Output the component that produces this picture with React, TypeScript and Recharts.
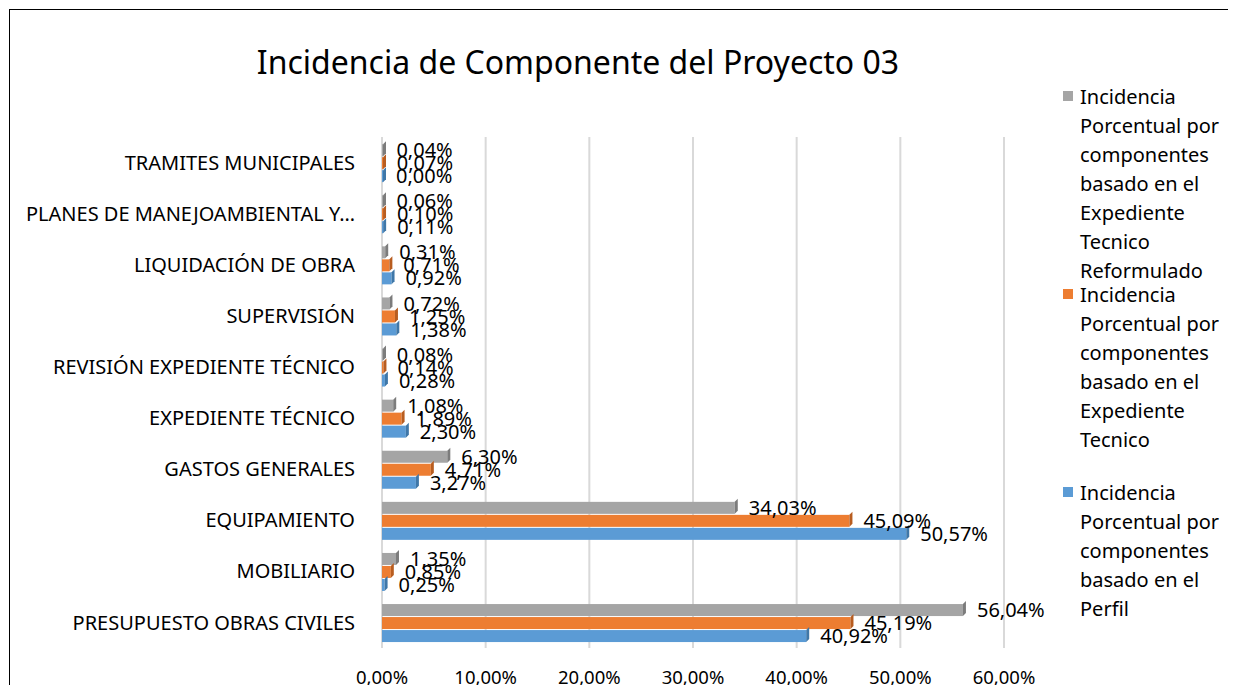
import { BarChart, Bar, XAxis, YAxis, CartesianGrid, Legend, LabelList } from 'recharts'

const categories = [
    'TRAMITES MUNICIPALES',
    'PLANES DE MANEJOAMBIENTAL Y…',
    'LIQUIDACIÓN DE OBRA',
    'SUPERVISIÓN',
    'REVISIÓN EXPEDIENTE TÉCNICO',
    'EXPEDIENTE TÉCNICO',
    'GASTOS GENERALES',
    'EQUIPAMIENTO',
    'MOBILIARIO',
    'PRESUPUESTO OBRAS CIVILES',
]

// % values
const reformulado = [0.04, 0.06, 0.31, 0.72, 0.08, 1.08, 6.3, 34.03, 1.35, 56.04]
const tecnico = [0.07, 0.1, 0.71, 1.25, 0.14, 1.89, 4.71, 45.09, 0.85, 45.19]
const perfil = [0.0, 0.11, 0.92, 1.38, 0.28, 2.3, 3.27, 50.57, 0.25, 40.92]

const xTicks = [0, 10, 20, 30, 40, 50, 60]

const series = [
    {
        key: 'reformulado',
        fill: '#A5A5A5',
        side: '#7c7c7c',
        lines: ['Incidencia', 'Porcentual por', 'componentes', 'basado en el', 'Expediente', 'Tecnico', 'Reformulado'],
        top: 82,
    },
    {
        key: 'tecnico',
        fill: '#ED7D31',
        side: '#b85d20',
        lines: ['Incidencia', 'Porcentual por', 'componentes', 'basado en el', 'Expediente', 'Tecnico'],
        top: 280,
    },
    {
        key: 'perfil',
        fill: '#5B9BD5',
        side: '#3f77a8',
        lines: ['Incidencia', 'Porcentual por', 'componentes', 'basado en el', 'Perfil'],
        top: 478,
    },
]

const data = categories.map((name, i) => ({
    name,
    reformulado: reformulado[i],
    tecnico: tecnico[i],
    perfil: perfil[i],
}))

const FONT = '"Noto Sans", "Open Sans", sans-serif'

const pct = (v: number) => v.toFixed(2).replace('.', ',') + '%'

function Bar3D(props: any) {
    const { x, y, width, height, fill, side } = props
    const d = 3
    const w = Math.max(width, 1)
    return (
        <g>
            <rect x={x} y={y} width={w} height={height} fill={fill} />
            <polygon
                points={`${x + w},${y} ${x + w + d},${y - d} ${x + w + d},${y + height - d} ${x + w},${y + height}`}
                fill={side}
            />
        </g>
    )
}

function LegendBox() {
    return (
        <div style={{ position: 'relative', width: 176, height: 600, fontFamily: FONT }}>
            {series.map(s => (
                <div key={s.key} style={{ position: 'absolute', left: 0, top: s.top }}>
                    <div
                        style={{
                            position: 'absolute',
                            left: 3,
                            top: 9,
                            width: 10,
                            height: 10,
                            background: s.fill,
                        }}
                    />
                    {s.lines.map((l, j) => (
                        <div
                            key={j}
                            style={{
                                position: 'absolute',
                                left: 20,
                                top: j * 29,
                                height: 29,
                                lineHeight: '29px',
                                fontSize: 20,
                                whiteSpace: 'nowrap',
                                color: '#000',
                            }}
                        >
                            {l}
                        </div>
                    ))}
                </div>
            ))}
        </div>
    )
}

export default function App() {
    return (
        <div style={{ position: 'relative', margin: -8, width: 1236, height: 693, overflow: 'hidden', background: '#fff' }}>
            <div
                style={{
                    position: 'absolute',
                    left: 9,
                    top: 9,
                    width: 1224,
                    height: 720,
                    border: '1px solid #000',
                }}
            />
            <div
                style={{
                    position: 'absolute',
                    left: 0,
                    top: 40,
                    width: 1156,
                    textAlign: 'center',
                    fontFamily: FONT,
                    fontSize: 32,
                    color: '#000',
                }}
            >
                Incidencia de Componente del Proyecto 03
            </div>
            <div style={{ position: 'absolute', left: 0, top: 0 }}>
                <BarChart
                    width={1236}
                    height={693}
                    data={data}
                    layout="vertical"
                    margin={{ top: 137, right: 56, bottom: 15, left: 0 }}
                    barGap={1}
                    barCategoryGap="14%"
                >
                    <CartesianGrid horizontal={false} stroke="#D9D9D9" strokeWidth={2} />
                    <XAxis
                        type="number"
                        domain={[0, 60]}
                        ticks={xTicks}
                        tickFormatter={pct}
                        axisLine={false}
                        tickLine={false}
                        height={30}
                        tickMargin={17}
                        tick={{ fontFamily: FONT, fontSize: 18.5, fill: '#000' }}
                    />
                    <YAxis
                        type="category"
                        dataKey="name"
                        width={382}
                        axisLine={false}
                        tickLine={false}
                        tickMargin={21}
                        interval={0}
                        tick={{ fontFamily: FONT, fontSize: 20, fill: '#000' }}
                    />
                    <Legend
                        layout="vertical"
                        align="right"
                        verticalAlign="top"
                        content={() => <LegendBox />}
                        wrapperStyle={{ position: 'absolute', left: 1060, top: 0, width: 176 }}
                    />
                    {series.map(s => (
                        <Bar
                            key={s.key}
                            dataKey={s.key}
                            fill={s.fill}
                            isAnimationActive={false}
                            shape={(p: any) => <Bar3D {...p} side={s.side} />}
                        >
                            <LabelList
                                dataKey={s.key}
                                position="right"
                                offset={14}
                                formatter={(v: any) => pct(Number(v))}
                                style={{ fontFamily: FONT, fontSize: 20, fill: '#000' }}
                            />
                        </Bar>
                    ))}
                </BarChart>
            </div>
        </div>
    )
}
